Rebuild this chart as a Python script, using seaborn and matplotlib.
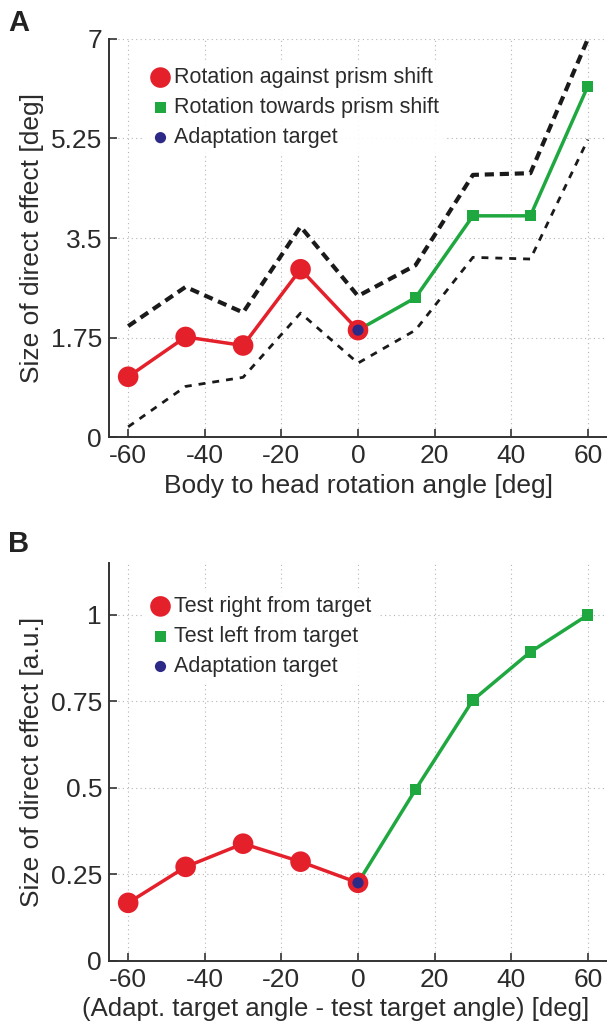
import matplotlib
matplotlib.use("Agg")
import matplotlib.pyplot as plt
import seaborn as sns
import pandas as pd
import numpy as np

# %% data
angles_neg = [-60, -45, -30, -15, 0]
angles_pos = [0, 15, 30, 45, 60]
angles_all = [-60, -45, -30, -15, 0, 15, 30, 45, 60]

# panel A
a_against = [1.06, 1.76, 1.61, 2.95, 1.88]
a_towards = [1.88, 2.45, 3.89, 3.89, 6.17]
a_upper = [1.95, 2.64, 2.19, 3.70, 2.48, 3.02, 4.61, 4.64, 7.0]
a_lower = [0.18, 0.89, 1.05, 2.18, 1.30, 1.88, 3.16, 3.13, 5.23]
a_yticks = [0, 1.75, 3.5, 5.25, 7]
a_yticklabels = ["0", "1.75", "3.5", "5.25", "7"]

# panel B
b_right = [0.168, 0.272, 0.339, 0.287, 0.226]
b_left = [0.226, 0.495, 0.754, 0.893, 1.0]
b_yticks = [0, 0.25, 0.5, 0.75, 1]
b_yticklabels = ["0", "0.25", "0.5", "0.75", "1"]

xticks = [-60, -40, -20, 0, 20, 40, 60]

red = "#e4202b"
green = "#1fa840"
blue = "#2c2a86"
txt = "#2b2b2b"

# %%
sns.set_style("ticks")
plt.rcParams["font.family"] = ["Liberation Sans", "DejaVu Sans"]
plt.rcParams["text.color"] = txt
plt.rcParams["axes.labelcolor"] = txt
plt.rcParams["xtick.color"] = txt
plt.rcParams["ytick.color"] = txt

fig = plt.figure(figsize=(6.07, 10.31), dpi=100)
ax_a = fig.add_axes([0.1796, 0.5761, 0.8204, 0.3861])
ax_b = fig.add_axes([0.1796, 0.0679, 0.8204, 0.3860])


def style_axes(ax, yticks, yticklabels, ylim, xlabel, ylabel, xlab_size=19):
    ax.set_xlim(-65, 65)
    ax.set_ylim(*ylim)
    ax.set_xticks(xticks)
    ax.set_xticklabels([str(t) for t in xticks])
    ax.set_yticks(yticks)
    ax.set_yticklabels(yticklabels)
    ax.grid(True, linestyle=(0, (1, 3)), color="#b5b5b5", linewidth=0.8)
    ax.set_axisbelow(True)
    for side in ["top", "right"]:
        ax.spines[side].set_visible(False)
    for side in ["left", "bottom"]:
        ax.spines[side].set_color("#333333")
        ax.spines[side].set_linewidth(1.4)
    ax.tick_params(direction="in", length=6, width=1.2, labelsize=19, pad=5,
                   color="#333333")
    ax.set_xlabel(xlabel, fontsize=xlab_size, labelpad=4)
    ax.set_ylabel(ylabel, fontsize=19, labelpad=5)


# %% panel A
df_neg = pd.DataFrame({"x": angles_neg, "y": a_against})
df_pos = pd.DataFrame({"x": angles_pos, "y": a_towards})
df_band = pd.DataFrame({"x": angles_all, "up": a_upper, "lo": a_lower})

sns.lineplot(df_band, x="x", y="up", ax=ax_a, color="#1a1a1a", lw=3.0,
             linestyle=(0, (2.2, 1.4)), legend=False)
sns.lineplot(df_band, x="x", y="lo", ax=ax_a, color="#1a1a1a", lw=2.0,
             linestyle=(0, (2.5, 2.5)), legend=False)
sns.lineplot(df_neg, x="x", y="y", ax=ax_a, color=red, lw=2.5, legend=False)
sns.lineplot(df_pos, x="x", y="y", ax=ax_a, color=green, lw=2.5, legend=False)
sns.scatterplot(df_neg, x="x", y="y", ax=ax_a, color=red, s=220, marker="o",
                edgecolor="none", label="Rotation against prism shift", zorder=4)
sns.scatterplot(df_pos.iloc[1:], x="x", y="y", ax=ax_a, color=green, s=65,
                marker="s", edgecolor="none", label="Rotation towards prism shift",
                zorder=4)
sns.scatterplot(df_pos.iloc[:1], x="x", y="y", ax=ax_a, color=blue, s=65,
                marker="o", edgecolor="none", label="Adaptation target", zorder=5)

style_axes(ax_a, a_yticks, a_yticklabels, (0, 7),
           "Body to head rotation angle [deg]", "Size of direct effect [deg]")
ax_a.legend(loc="upper left", bbox_to_anchor=(0.045, 0.975), frameon=True,
            facecolor="white", edgecolor="none", framealpha=0.9, fontsize=15.5,
            handletextpad=0.15, labelspacing=0.42, borderpad=0.35,
            handlelength=1.0)

# %% panel B
dfb_neg = pd.DataFrame({"x": angles_neg, "y": b_right})
dfb_pos = pd.DataFrame({"x": angles_pos, "y": b_left})

sns.lineplot(dfb_neg, x="x", y="y", ax=ax_b, color=red, lw=2.5, legend=False)
sns.lineplot(dfb_pos, x="x", y="y", ax=ax_b, color=green, lw=2.5, legend=False)
sns.scatterplot(dfb_neg, x="x", y="y", ax=ax_b, color=red, s=220, marker="o",
                edgecolor="none", label="Test right from target", zorder=4)
sns.scatterplot(dfb_pos.iloc[1:], x="x", y="y", ax=ax_b, color=green, s=65,
                marker="s", edgecolor="none", label="Test left from target",
                zorder=4)
sns.scatterplot(dfb_pos.iloc[:1], x="x", y="y", ax=ax_b, color=blue, s=65,
                marker="o", edgecolor="none", label="Adaptation target", zorder=5)

style_axes(ax_b, b_yticks, b_yticklabels, (0, 1.15),
           "(Adapt. target angle - test target angle) [deg]",
           "Size of direct effect [a.u.]", xlab_size=18.5)
ax_b.xaxis.label.set_x(0.455)
ax_b.legend(loc="upper left", bbox_to_anchor=(0.045, 0.963), frameon=True,
            facecolor="white", edgecolor="none", framealpha=0.9, fontsize=15.5,
            handletextpad=0.15, labelspacing=0.42, borderpad=0.35,
            handlelength=1.0)

fig.text(0.013, 0.978, "A", fontsize=21, fontweight="bold", color="#222222",
         va="center")
fig.text(0.013, 0.472, "B", fontsize=21, fontweight="bold", color="#222222",
         va="center")

fig.savefig("out.png", dpi=100)
